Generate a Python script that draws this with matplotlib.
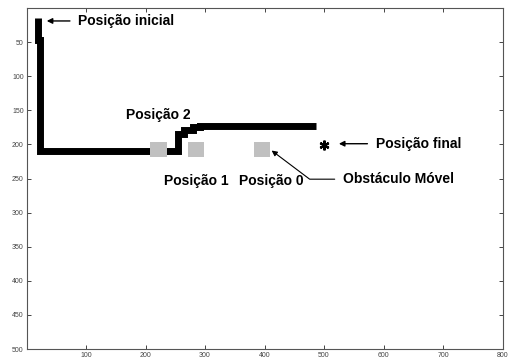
import matplotlib
matplotlib.use("Agg")
import matplotlib.pyplot as plt
from matplotlib.patches import Rectangle

plt.rcParams['font.family'] = ['Liberation Sans', 'DejaVu Sans']

# Robot path (x, y) in map coordinates (y axis inverted)
path_x = [20, 20, 22, 22, 255, 255, 265, 265, 280, 280, 292, 292, 487]
path_y = [15, 47, 47, 209, 209, 185, 185, 179, 179, 175, 175, 173, 173]

# Moving obstacle positions (2, 1, 0)
obstacle_x = [222, 285, 396]
obstacle_y = [208, 208, 208]
obstacle_w = 28
obstacle_h = 22

# Goal position
goal_x = [500]
goal_y = [201]

xticks = [100, 200, 300, 400, 500, 600, 700, 800]
yticks = [50, 100, 150, 200, 250, 300, 350, 400, 450, 500]

fig = plt.figure(figsize=(5.09, 3.63), dpi=100)
ax = fig.add_axes([26.5/509, 1-349/363, (502.5-26.5)/509, (349-8)/363])

ax.plot(path_x, path_y, color='black', lw=5, solid_capstyle='butt',
        solid_joinstyle='miter', zorder=2)

for ox, oy in zip(obstacle_x, obstacle_y):
    ax.add_patch(Rectangle((ox - obstacle_w/2, oy - obstacle_h/2), obstacle_w, obstacle_h,
                           facecolor='#c0c0c0', edgecolor='none', zorder=3))

ax.plot(goal_x, goal_y, marker=(6, 2, 0), color='black', ms=7, mew=1.6, ls='none', zorder=3)

ax.set_xlim(0, 800)
ax.set_ylim(500, 0)
ax.set_xticks(xticks)
ax.set_yticks(yticks)
ax.tick_params(direction='in', length=3, width=0.7, labelsize=5, colors='#444444',
               top=True, right=True, pad=2)
for s in ax.spines.values():
    s.set_color('#555555')
    s.set_linewidth(0.8)

bold = dict(fontsize=10, fontweight='bold', color='black')
arrow = dict(arrowstyle='-|>', color='black', lw=1.0, mutation_scale=8, shrinkA=4, shrinkB=0)

ax.annotate('Posição inicial', xy=(34, 19), xytext=(87, 19), ha='left', va='center',
            arrowprops=arrow, **bold)
ax.annotate('Posição final', xy=(525, 199), xytext=(587, 199), ha='left', va='center',
            arrowprops=arrow, **bold)
ax.text(222, 157, 'Posição 2', ha='center', va='center', **bold)
ax.text(285, 254, 'Posição 1', ha='center', va='center', **bold)
ax.text(411, 254, 'Posição 0', ha='center', va='center', **bold)
ax.annotate('Obstáculo Móvel', xy=(412, 209), xytext=(532, 251), ha='left', va='center',
            arrowprops=dict(arrowstyle='-|>', color='black', lw=0.8, mutation_scale=8,
                            shrinkA=4, shrinkB=0,
                            connectionstyle='angle,angleA=0,angleB=-37,rad=0'),
            **bold)

fig.savefig('out.png', dpi=100)
